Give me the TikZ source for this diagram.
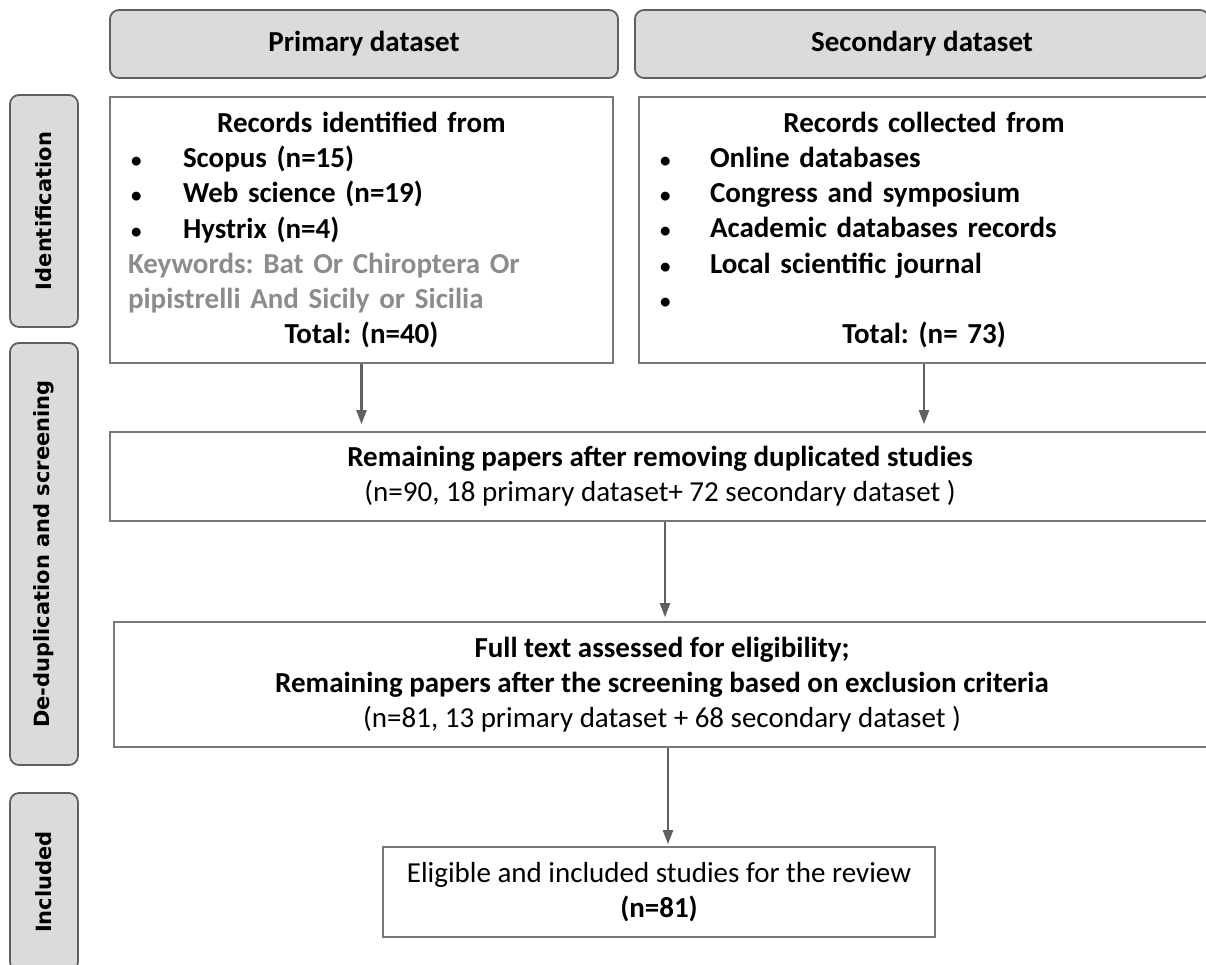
\documentclass[tikz,border=0pt]{standalone}
\usepackage{fontspec}
\setmainfont{Carlito}
\newfontfamily\sidefont{DejaVu Sans}
\usetikzlibrary{positioning, arrows.meta}
\definecolor{headfill}{RGB}{219,219,219}
\definecolor{edgegray}{RGB}{96,96,96}
\definecolor{boxgray}{RGB}{120,120,120}
\definecolor{keygray}{RGB}{140,140,140}
\newcommand{\bul}[1]{\hspace*{3pt}\makebox[#1][l]{\fontsize{21}{21}\selectfont\textbullet}}
\frenchspacing

\begin{document}
\begin{tikzpicture}[x=1pt, y=-1pt,
  head/.style={draw=edgegray, fill=headfill, line width=1.8pt, rounded corners=9pt, minimum height=68pt, font=\fontsize{29}{35}\selectfont\bfseries},
  side/.style={draw=edgegray, fill=headfill, line width=1.8pt, rounded corners=9pt, minimum height=68pt, rotate=90, font=\sidefont\fontsize{21}{25}\selectfont\bfseries},
  box/.style={draw=boxgray, line width=1.6pt, align=center, font=\fontsize{29}{35.3}\selectfont},
  arr/.style={-{Triangle[length=14pt, width=10pt]}, draw=edgegray, line width=2.2pt}]
  \useasboundingbox (0,0) rectangle (1206,964);
  % column headings
  \node[head, minimum width=508pt] (prim) at (364,44) {Primary dataset};
  \node[head, minimum width=574pt] (sec) at (922,44) {Secondary dataset};
  % stages
  \node[side, minimum width=232pt] (sidId) at (44,211) {Identification};
  \node[side, minimum width=422pt] (sidDup) at (44,554) {De-duplication and screening};
  \node[side, minimum width=178pt] (sidInc) at (44,882) {Included};
  % records
  \node[box, minimum width=503pt, minimum height=266pt, text width=467pt, align=left, inner xsep=18pt] (recP) at (361.5,230) {\bfseries
    \makebox[\linewidth]{Records identified from}\\
    \bul{52pt}Scopus (n=15)\\
    \bul{52pt}Web science (n=19)\\
    \bul{52pt}Hystrix (n=4)\\
    \textcolor{keygray}{Keywords: Bat Or Chiroptera Or}\\
    \textcolor{keygray}{pipistrelli And Sicily or Sicilia}\\
    \makebox[\linewidth]{Total: (n=40)}};
  \node[box, minimum width=570pt, minimum height=266pt, text width=534pt, align=left, inner xsep=18pt] (recS) at (924,230) {\bfseries
    \makebox[\linewidth]{Records collected from}\\
    \bul{50pt}Online databases\\
    \bul{50pt}Congress and symposium\\
    \bul{50pt}Academic databases records\\
    \bul{50pt}Local scientific journal\\
    \bul{50pt}\\
    \makebox[\linewidth]{Total: (n= 73)}};
  % screening
  \node[box, minimum width=1100pt, minimum height=89pt] (dup) at (660,476.5) {\textbf{Remaining papers after removing duplicated studies}\\(n=90, 18 primary dataset+ 72 secondary dataset )};
  \node[box, minimum width=1096pt, minimum height=125pt] (full) at (662,684.5) {\textbf{Full text assessed for eligibility;}\\\textbf{Remaining papers after the screening based on exclusion criteria}\\(n=81, 13 primary dataset + 68 secondary dataset )};
  \node[box, minimum width=552pt, minimum height=90pt] (incl) at (659,892) {Eligible and included studies for the review\\\textbf{(n=81)}};
  % arrows
  \draw[arr, shorten >=7pt] (recP.south) -- (recP.south |- dup.north);
  \draw[arr, shorten >=7pt] (recS.south) -- (recS.south |- dup.north);
  \draw[arr, shorten >=4pt] ([xshift=5pt]dup.south) -- ([xshift=5pt]dup.south |- full.north);
  \draw[arr, shorten >=2pt] ([xshift=6pt]full.south) -- ([xshift=6pt]full.south |- incl.north);
\end{tikzpicture}
\end{document}
